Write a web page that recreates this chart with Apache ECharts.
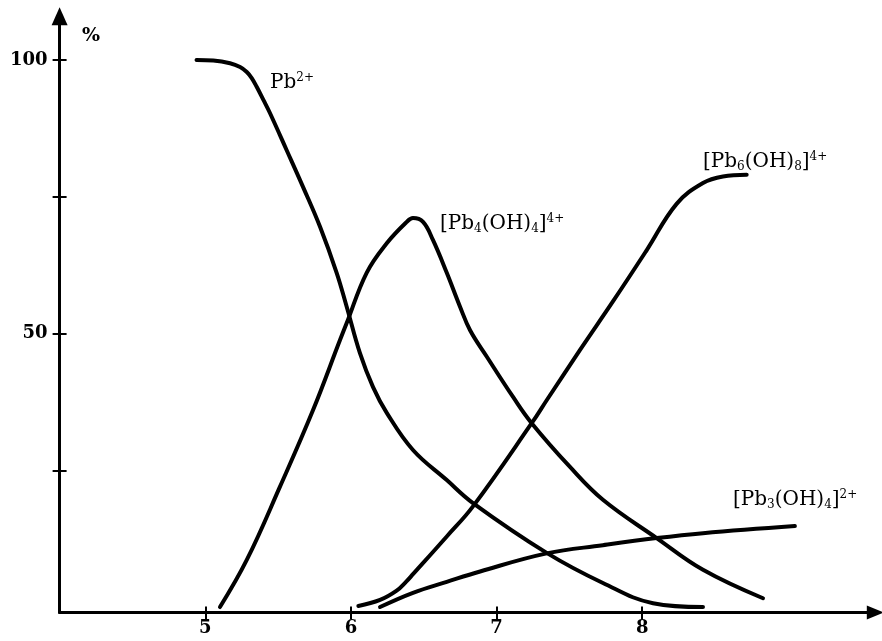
<!DOCTYPE html>
<html>
<head>
<meta charset="utf-8">
<script src="https://cdn.jsdelivr.net/npm/echarts@6/dist/echarts.min.js"></script>
<style>
html,body{margin:0;padding:0;background:#fff;}
#c{width:882px;height:641px;}
</style>
</head>
<body>
<div id="c"></div>
<script>
// ---- data (x = pH, y = %) ----
const pb2X = [4.94, 5.055, 5.17, 5.239, 5.285, 5.319, 5.353, 5.399, 5.444, 5.559, 5.671, 5.788, 5.902, 5.971, 6.062, 6.152, 6.246, 6.426, 6.658, 6.838, 7.344, 7.73, 8.074, 8.417];
const pb2Y = [100.0, 99.9, 99.4, 98.7, 97.8, 96.7, 95.1, 92.7, 90.3, 83.5, 76.8, 69.5, 61.1, 54.9, 46.4, 40.2, 35.5, 28.7, 23.2, 19.0, 9.9, 4.4, 0.7, 0];

const pb4X = [5.101, 5.285, 5.513, 5.74, 5.925, 5.971, 6.108, 6.246, 6.383, 6.426, 6.495, 6.563, 6.658, 6.749, 6.818, 6.932, 7.113, 7.241, 7.504, 7.73, 8.099, 8.417, 8.829];
const pb4Y = [0, 8.6, 22.0, 36.0, 48.8, 51.9, 61.1, 66.5, 70.4, 71.1, 70.4, 67.1, 61.1, 54.9, 50.6, 45.8, 38.4, 33.6, 25.6, 19.6, 12.6, 6.8, 1.6];

const pb6X = [6.051, 6.2, 6.314, 6.378, 6.426, 6.658, 6.838, 7.241, 7.344, 7.573, 7.8, 8.03, 8.236, 8.417, 8.554, 8.717];
const pb6Y = [0.2, 1.3, 3.0, 4.6, 6.0, 12.9, 18.4, 33.6, 37.8, 47.0, 55.9, 65.2, 73.7, 77.5, 78.7, 79.0];

const pb3X = [6.2, 6.426, 6.658, 6.887, 7.344, 7.73, 8.099, 8.417, 9.048];
const pb3Y = [0, 2.6, 4.6, 6.5, 9.8, 11.3, 12.6, 13.5, 14.8];

const xTicks = [5, 6, 7, 8];
const xLabels = [5, 6, 7, 8];
const yTicks = [25, 50, 75, 100];
const yLabels = [50, 100];
const yUnit = '%';
const speciesNames = [
  'Pb{sup|2+}',
  '[Pb{sub|4}(OH){sub|4}]{sup|4+}',
  '[Pb{sub|6}(OH){sub|8}]{sup|4+}',
  '[Pb{sub|3}(OH){sub|4}]{sup|2+}'
];

// ---- build ----
function pairs(xs, ys){ return xs.map((x,i)=>[x, ys[i]]); }
const FONT = 'DejaVu Serif';
const X_MIN = 4, X_MAX = 9.6, Y_MIN = -1, Y_MAX = 108;

const chart = echarts.init(document.getElementById('c'), null, {renderer:'canvas'});

const baseX = {
  type:'value', min:X_MIN, max:X_MAX, position:'bottom',
  splitLine:{show:false}
};
const baseY = {
  type:'value', min:Y_MIN, max:Y_MAX, position:'left',
  splitLine:{show:false}
};

function seriesOf(name, xs, ys){
  return {
    name, type:'line', xAxisIndex:0, yAxisIndex:0,
    data: pairs(xs, ys),
    showSymbol:false, symbol:'none', smooth:0.4,
    lineStyle:{color:'#000', width:4, cap:'round'},
    z:3, silent:true, animation:false
  };
}

const rich = {
  sub:{fontFamily:FONT, fontSize:12, lineHeight:8, verticalAlign:'bottom', fill:'#000'},
  sup:{fontFamily:FONT, fontSize:12, lineHeight:8, verticalAlign:'top', fill:'#000'}
};
function chemText(txt, left, top){
  return {
    type:'text', left, top, z:10, silent:true,
    style:{text:txt, fontFamily:FONT, fontSize:20, lineHeight:22, fill:'#000', rich}
  };
}

const option = {
  animation:false,
  backgroundColor:'#fff',
  grid:{left:59.6, right:6.7, top:16.2, bottom:28.5, containLabel:false},
  xAxis:[
    Object.assign({}, baseX, {
      axisLine:{show:true, onZero:false, lineStyle:{color:'#000', width:3},
        symbol:['none','triangle'], symbolSize:[14,17]},
      axisTick:{show:true, inside:false, length:7, customValues:xTicks, lineStyle:{color:'#000', width:2}},
      axisLabel:{show:true, margin:7, customValues:xLabels, color:'#000',
        fontFamily:FONT, fontSize:18, fontWeight:'bold'}
    }),
    Object.assign({}, baseX, {
      axisLine:{show:false, onZero:false},
      axisTick:{show:true, inside:true, length:6, customValues:xTicks, lineStyle:{color:'#000', width:2}},
      axisLabel:{show:false}
    })
  ],
  yAxis:[
    Object.assign({}, baseY, {
      axisLine:{show:true, onZero:false, lineStyle:{color:'#000', width:3},
        symbol:['none','triangle'], symbolSize:[16,18]},
      axisTick:{show:true, inside:false, length:7, customValues:yTicks, lineStyle:{color:'#000', width:2}},
      axisLabel:{show:true, margin:12, customValues:yLabels, color:'#000',
        fontFamily:FONT, fontSize:18, fontWeight:'bold'}
    }),
    Object.assign({}, baseY, {
      offset:0,
      axisLine:{show:false, onZero:false},
      axisTick:{show:true, inside:true, length:7, customValues:yTicks, lineStyle:{color:'#000', width:2}},
      axisLabel:{show:false}
    })
  ],
  series:[
    seriesOf('Pb2+', pb2X, pb2Y),
    seriesOf('[Pb4(OH)4]4+', pb4X, pb4Y),
    seriesOf('[Pb6(OH)8]4+', pb6X, pb6Y),
    seriesOf('[Pb3(OH)4]2+', pb3X, pb3Y)
  ],
  graphic:[
    {type:'text', left:82, top:27, z:10, silent:true,
     style:{text:yUnit, fontFamily:FONT, fontSize:19, fontWeight:'bold', fill:'#000'}},
    chemText(speciesNames[0], 270, 72),
    chemText(speciesNames[1], 440, 213),
    chemText(speciesNames[2], 703, 151),
    chemText(speciesNames[3], 733, 489)
  ]
};
chart.setOption(option);
</script>
</body>
</html>
